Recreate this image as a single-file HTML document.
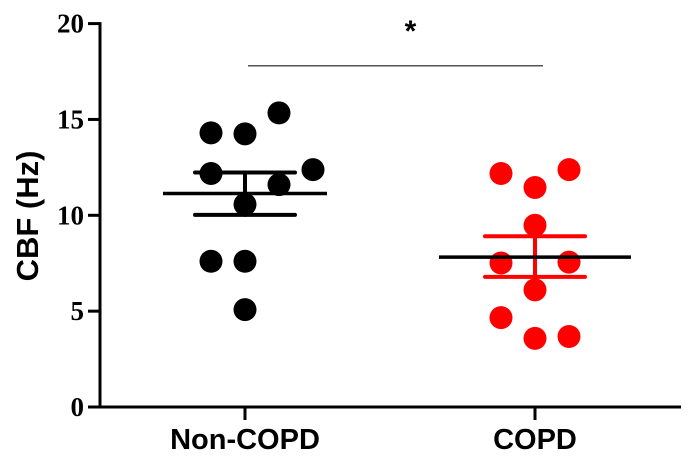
<!DOCTYPE html>
<html><head><meta charset="utf-8"><style>
html,body{margin:0;padding:0;background:#fff;}
svg{display:block;}
.tick{font-family:"Liberation Serif",serif;font-weight:bold;font-size:27px;}
.cat{font-family:"Liberation Sans",sans-serif;font-weight:bold;font-size:29px;}
</style></head><body>
<svg id="chart" width="690" height="457" viewBox="0 0 690 457"></svg>
<script>
const categories = ["Non-COPD", "COPD"];
const nonCopdValues = [15.34, 14.3, 14.25, 12.38, 12.18, 11.6, 10.57, 7.6, 7.6, 5.08];
const nonCopdLane = [1, -1, 0, 2, -1, 1, 0, -1, 0, 0];
const copdValues = [12.18, 12.38, 11.45, 9.48, 7.51, 7.56, 6.11, 4.66, 3.58, 3.68];
const copdLane = [-1, 1, 0, 0, -1, 1, 0, -1, 0, 1];
const means = [11.14, 7.82];
const semUpper = [12.23, 8.91];
const semLower = [10.02, 6.79];
const yTicks = [0, 5, 10, 15, 20];
const sigValue = 17.8;

const NS = "http://www.w3.org/2000/svg";
const svg = document.getElementById("chart");
const y0 = 407, yScale = 19.17;
function yPos(v){ return y0 - v * yScale; }
const catX = [245, 535];
function xPos(i){ return catX[i]; }
const laneW = 34;
function mk(tag, attrs, parent){
  const e = document.createElementNS(NS, tag);
  for (const k in attrs) e.setAttribute(k, attrs[k]);
  (parent || svg).appendChild(e);
  return e;
}

const yAxis = mk("line", {x1:100, y1:yPos(20)-1.5, x2:100, y2:y0+1.5, stroke:"#000","stroke-width":3});


const xAxis = mk("line", {x1:98.5, y1:y0, x2:681, y2:y0, stroke:"#000","stroke-width":3});



yTicks.forEach(t => {
  const tk = mk("line", {x1:88, y1:yPos(t), x2:100, y2:yPos(t), stroke:"#000","stroke-width":3});
  
  
  const lb = mk("text", {x:84, y:yPos(t)+9, "text-anchor":"end", class:"tick"});
  lb.textContent = t;
  
  
});

categories.forEach((c, i) => {
  const tk = mk("line", {x1:xPos(i), y1:y0, x2:xPos(i), y2:420, stroke:"#000","stroke-width":3});
  
  
  const lb = mk("text", {x:xPos(i), y:449, "text-anchor":"middle", class:"cat"});
  lb.textContent = c;
  
  
});

const yt = mk("text", {x:0, y:0, "text-anchor":"middle", class:"cat", transform:"translate(38,216) rotate(-90)", style:"font-size:31px"});
yt.textContent = "CBF (Hz)";



const sig = mk("line", {x1:248, y1:yPos(sigValue), x2:543, y2:yPos(sigValue), stroke:"#555","stroke-width":1.5});


const star = mk("text", {x:(248+543)/2+15, y:41, "text-anchor":"middle", class:"cat", style:"font-size:30px"});
star.textContent = "*";



function drawGroup(i, vals, lanes, color, name){
  vals.forEach((v, k) => {
    const c = mk("circle", {cx:xPos(i)+lanes[k]*laneW, cy:yPos(v), r:11.5, fill:color});
    
    
  });
}
drawGroup(0, nonCopdValues, nonCopdLane, "#000", "non-copd");
drawGroup(1, copdValues, copdLane, "#f00", "copd");

const errColor = ["#000", "#f00"];
const meanHalf = [82, 96];
categories.forEach((c, i) => {
  const g = mk("g", {stroke:errColor[i], "stroke-width":4, "stroke-linecap":"round"});
  
  
  mk("line", {x1:xPos(i), y1:yPos(semUpper[i]), x2:xPos(i), y2:yPos(semLower[i])}, g);
  mk("line", {x1:xPos(i)-50, y1:yPos(semUpper[i]), x2:xPos(i)+50, y2:yPos(semUpper[i])}, g);
  mk("line", {x1:xPos(i)-50, y1:yPos(semLower[i]), x2:xPos(i)+50, y2:yPos(semLower[i])}, g);
  const m = mk("line", {x1:xPos(i)-meanHalf[i], y1:yPos(means[i]), x2:xPos(i)+meanHalf[i], y2:yPos(means[i]), stroke:"#000","stroke-width":3.5});
  
  
});
</script>
</body></html>
